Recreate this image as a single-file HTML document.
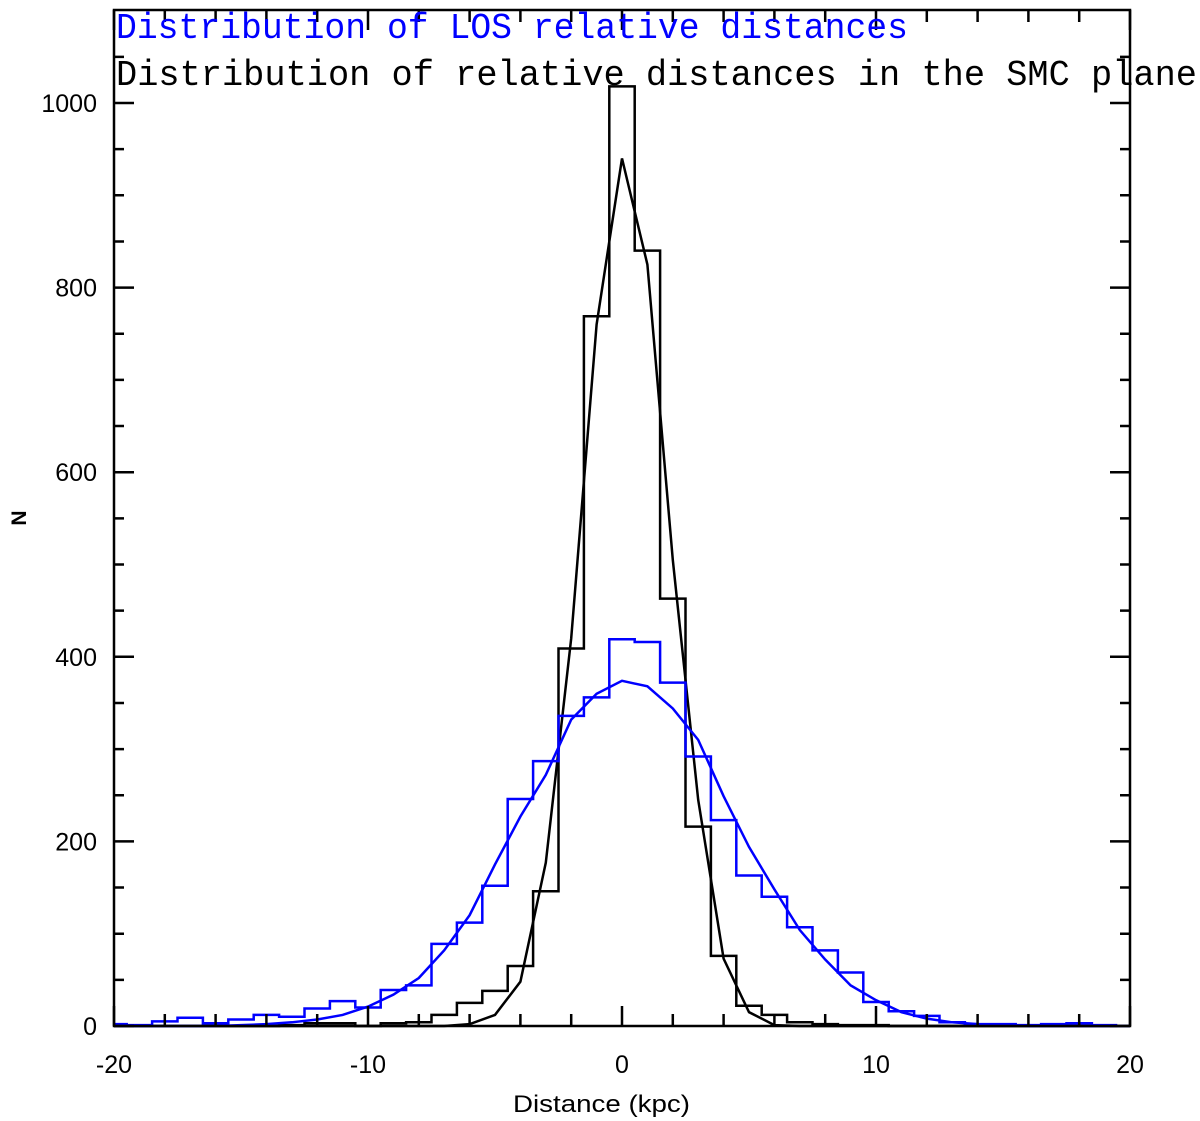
<!DOCTYPE html>
<html><head><meta charset="utf-8"><style>
body{margin:0;background:#fff;}
svg{display:block;}
</style></head><body>
<svg id="chart" width="1200" height="1121" viewBox="0 0 1200 1121" xmlns="http://www.w3.org/2000/svg">
<rect width="1200" height="1121" fill="#fff"/>
<g id="marks"></g>
<g id="axes"></g>
<text x="116" y="38" fill="#0000ff" font-family="Liberation Mono, monospace" font-size="36" textLength="792" lengthAdjust="spacingAndGlyphs">Distribution of LOS relative distances</text>
<text x="116" y="85" fill="#000" font-family="Liberation Mono, monospace" font-size="36" textLength="1081" lengthAdjust="spacingAndGlyphs">Distribution of relative distances in the SMC plane</text>
<text x="513" y="1112" font-family="Liberation Sans, sans-serif" font-size="24" textLength="177" lengthAdjust="spacingAndGlyphs">Distance (kpc)</text>
<text transform="translate(26,518) rotate(-90)" text-anchor="middle" font-family="Liberation Sans, sans-serif" font-size="21" font-weight="bold">N</text>
</svg>
<script>
const binCenters = [-20,-19,-18,-17,-16,-15,-14,-13,-12,-11,-10,-9,-8,-7,-6,-5,-4,-3,-2,-1,0,1,2,3,4,5,6,7,8,9,10,11,12,13,14,15,16,17,18,19];
const losCounts = [2,1,5,9,3,7,12,10,19,27,20,39,44,89,112,152,246,287,336,356,419,416,372,292,223,163,140,107,82,58,26,16,11,4,2,2,1,2,3,1];
const planeCounts = [0,0,0,0,0,0,0,1,3,3,0,3,4,12,25,38,65,146,409,769,1018,840,463,216,76,22,12,4,2,1,1,0,0,0,0,0,0,0,0,0];
const fitX = [-20,-19,-18,-17,-16,-15,-14,-13,-12,-11,-10,-9,-8,-7,-6,-5,-4,-3,-2,-1,0,1,2,3,4,5,6,7,8,9,10,11,12,13,14,15,16,17,18,19,20];
const losFit = [0,0,0,0,0,1,2,4,7,12,21,34,52,82,120,175,227,272,332,360,374,368,344,310,249,194,148,104,72,44,28,15,8,4,2,1,0,0,0,0,0];
const planeFit = [0,0,0,0,0,0,0,0,0,0,0,0,0,0,2,12,48,177,420,760,940,825,505,245,73,15,1,0,0,0,0,0,0,0,0,0,0,0,0,0,0];
const xTicks = [-20,-10,0,10,20];
const yTicks = [0,200,400,600,800,1000];

const X0=114,X1=1130,Y0=1026,Ytop=10;
const sx = v => X0 + (v+20)*(X1-X0)/40;
const sy = v => Y0 - v*0.923;
const NS="http://www.w3.org/2000/svg";
const marks=document.getElementById('marks'), axes=document.getElementById('axes');
function mk(tag,attrs,parent){const e=document.createElementNS(NS,tag);for(const k in attrs)e.setAttribute(k,attrs[k]);parent.appendChild(e);return e;}

function stepPath(counts){
  let d='';
  binCenters.forEach((c,i)=>{
    const xa=Math.max(sx(c-0.5),X0), xb=Math.min(sx(c+0.5),X1), y=sy(counts[i]);
    d += (i===0?'M':'L')+xa+','+y+' L'+xb+','+y+' ';
  });
  return d;
}
function linePath(vals){return fitX.map((x,i)=>(i?'L':'M')+sx(x)+','+sy(vals[i])).join(' ');}

const h1=mk('path',{d:stepPath(planeCounts),fill:'none',stroke:'#000','stroke-width':2.5},marks);


const f1=mk('path',{d:linePath(planeFit),fill:'none',stroke:'#000','stroke-width':2.5},marks);


const h2=mk('path',{d:stepPath(losCounts),fill:'none',stroke:'#0000ff','stroke-width':2.5},marks);


const f2=mk('path',{d:linePath(losFit),fill:'none',stroke:'#0000ff','stroke-width':2.5},marks);



const frame=mk('rect',{x:X0,y:Ytop,width:X1-X0,height:Y0-Ytop,fill:'none',stroke:'#000','stroke-width':2.5},axes);



for(let v=-20;v<=20;v+=2){
  const major=v%10===0, L=major?20:12, x=sx(v);
  const t=mk('path',{d:`M${x},${Y0} L${x},${Y0-L} M${x},${Ytop} L${x},${Ytop+L}`,stroke:'#000','stroke-width':2.5},axes);
  
  
}
xTicks.forEach(v=>{
  const t=mk('text',{x:sx(v),y:1073,'text-anchor':'middle','font-family':'Liberation Sans, sans-serif','font-size':25},axes);
  t.textContent=v;
  
  
});
for(let v=0;v<=1050;v+=50){
  const y=sy(v); if(y<Ytop) break;
  const major=v%200===0, L=major?20:10;
  const t=mk('path',{d:`M${X0},${y} L${X0+L},${y} M${X1},${y} L${X1-L},${y}`,stroke:'#000','stroke-width':2.5},axes);
  
  
}
yTicks.forEach(v=>{
  const t=mk('text',{x:97,y:sy(v)+9,'text-anchor':'end','font-family':'Liberation Sans, sans-serif','font-size':25},axes);
  t.textContent=v;
  
  
});
</script>
</body></html>
